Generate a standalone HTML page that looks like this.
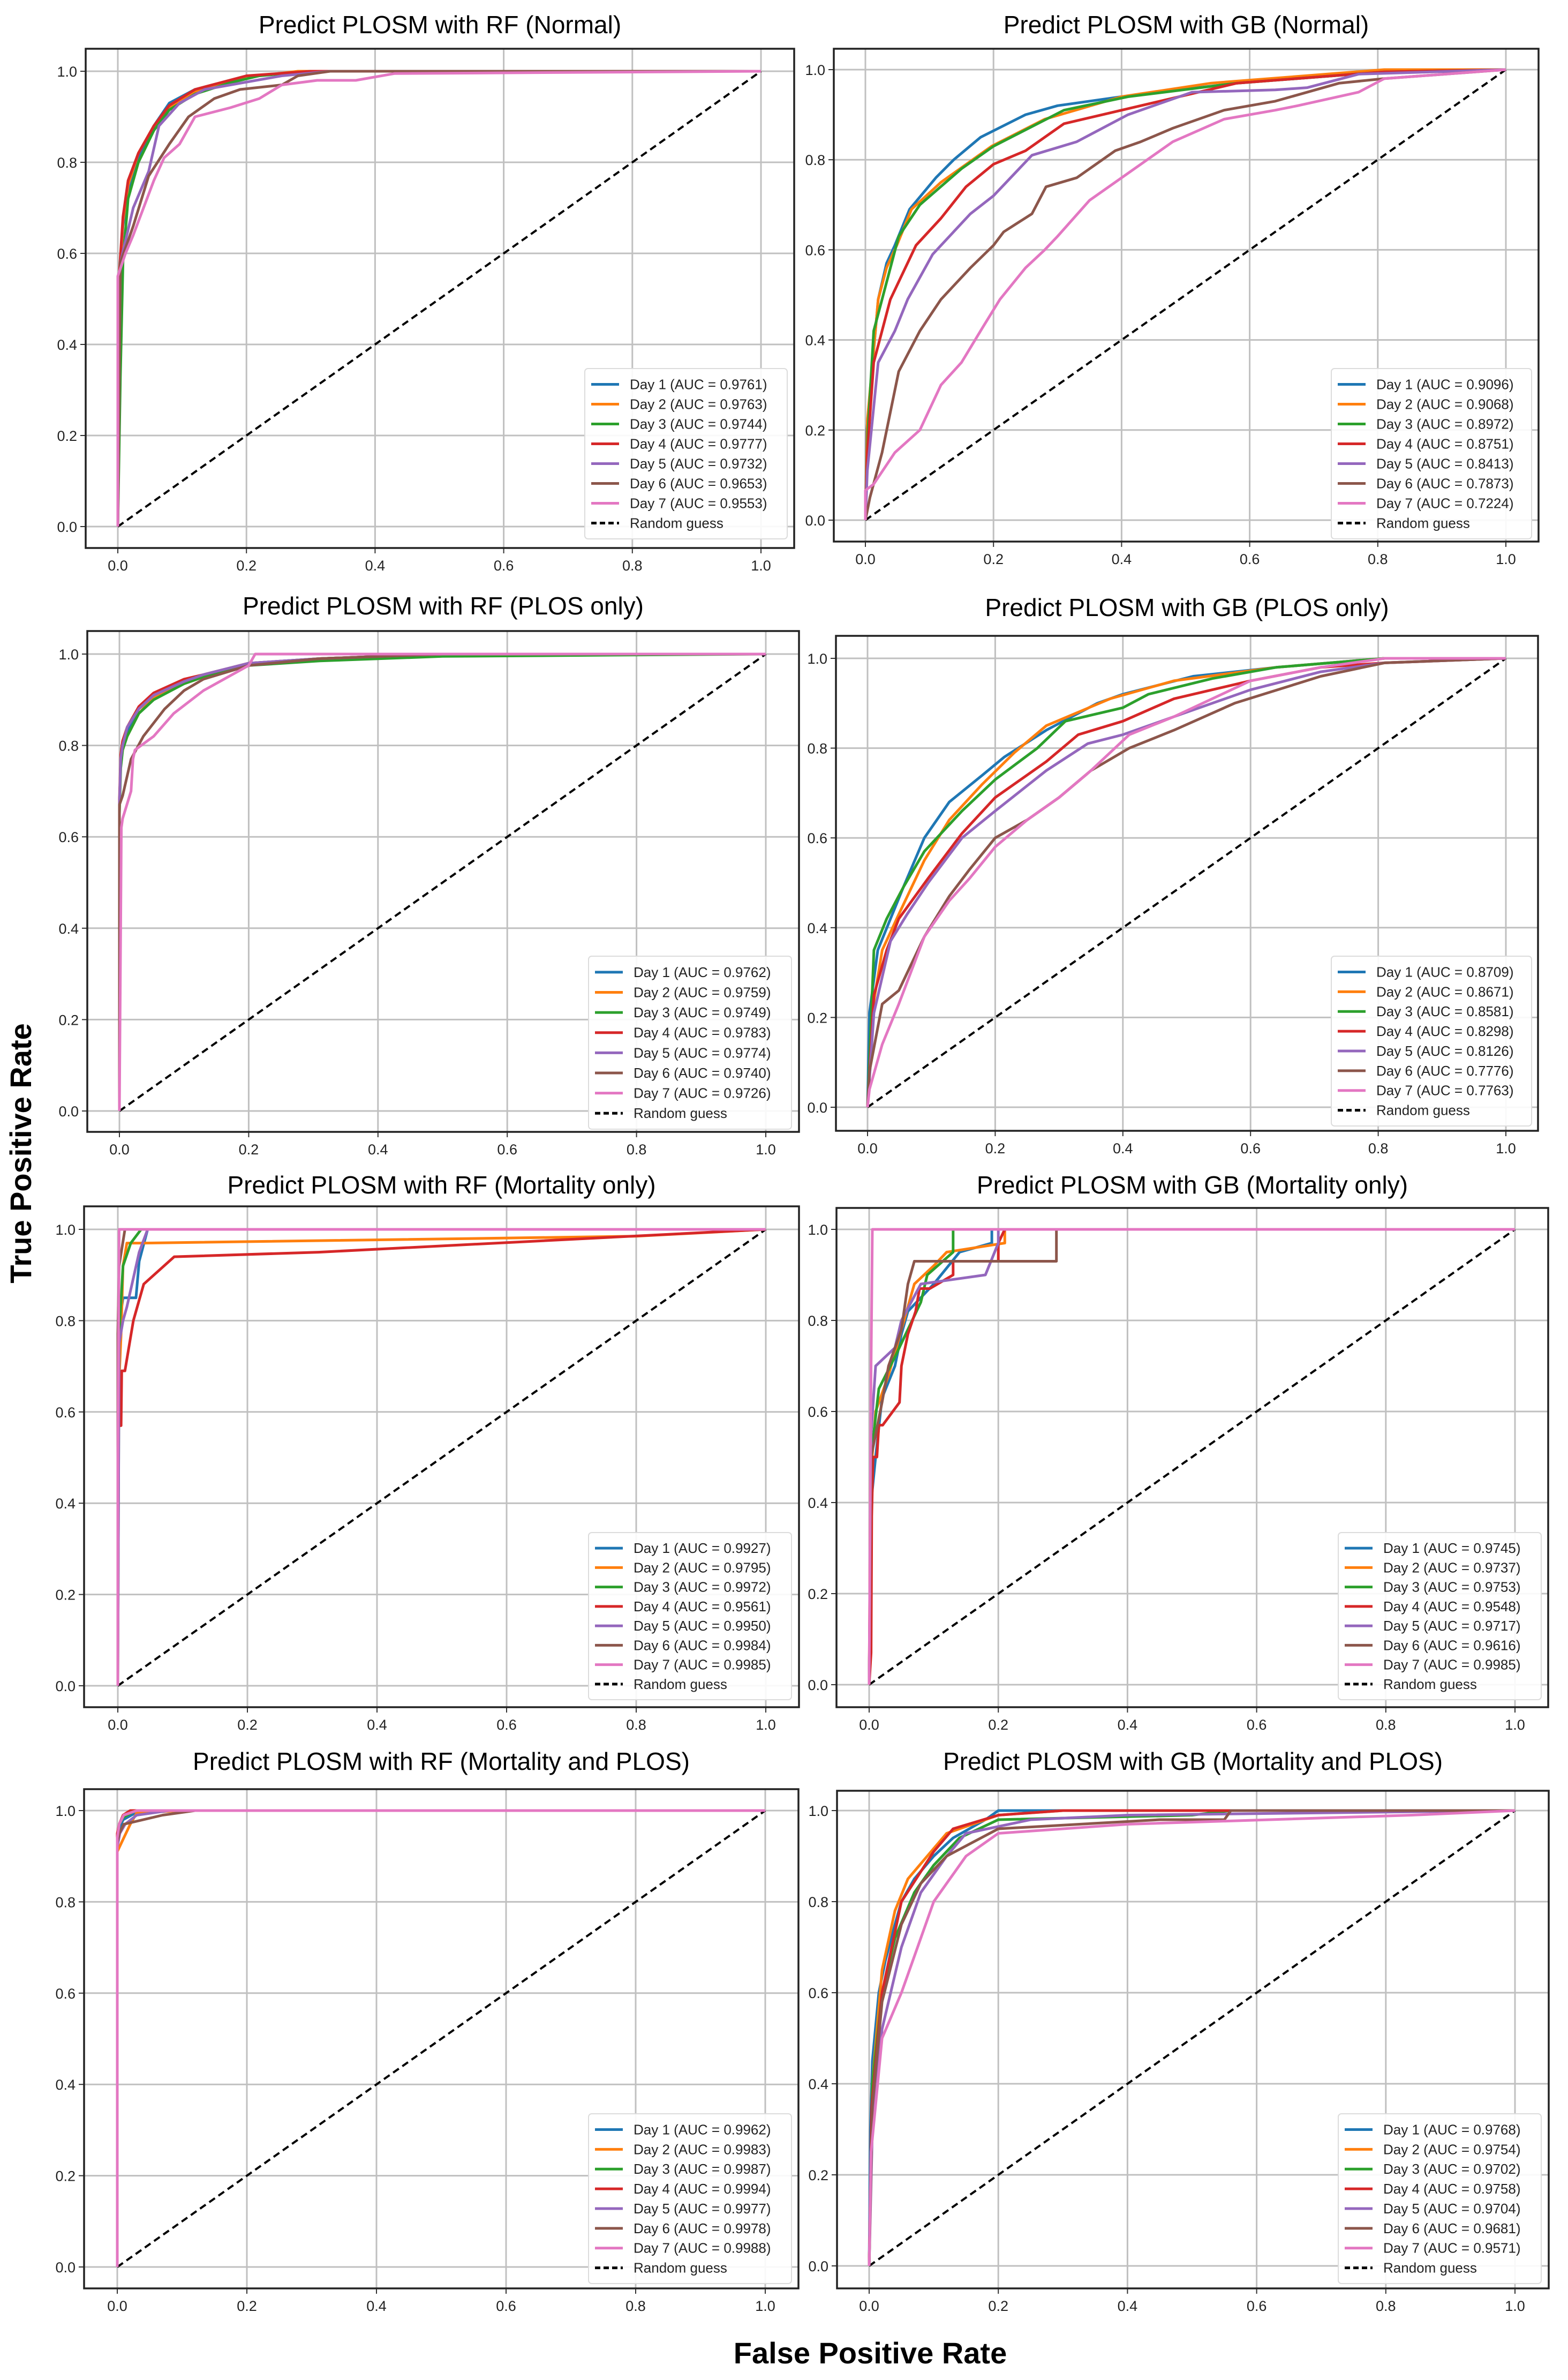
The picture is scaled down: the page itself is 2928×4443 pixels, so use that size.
<!DOCTYPE html>
<html><head><meta charset="utf-8">
<style>
html,body{margin:0;padding:0;background:#fff;}
svg{display:block;}
text{font-family:"Liberation Sans",sans-serif;}
</style></head>
<body>
<svg id="fig" width="2928" height="4443" viewBox="0 0 2928 4443" xmlns="http://www.w3.org/2000/svg">
<rect x="0" y="0" width="2928" height="4443" fill="#fff"/>
<text x="0" y="0" transform="translate(58,2153) rotate(-90)" text-anchor="middle" font-size="56" font-weight="bold" fill="#000">True Positive Rate</text>
<text x="1625" y="4412" text-anchor="middle" font-size="56" font-weight="bold" fill="#000">False Positive Rate</text>
</svg>
<script>
const colors = ["#1f77b4","#ff7f0e","#2ca02c","#d62728","#9467bd","#8c564b","#e377c2"];
const ticks = [0,0.2,0.4,0.6,0.8,1.0];
const tickLabels = ["0.0","0.2","0.4","0.6","0.8","1.0"];

const titles = ["Predict PLOSM with RF (Normal)","Predict PLOSM with GB (Normal)","Predict PLOSM with RF (PLOS only)","Predict PLOSM with GB (PLOS only)","Predict PLOSM with RF (Mortality only)","Predict PLOSM with GB (Mortality only)","Predict PLOSM with RF (Mortality and PLOS)","Predict PLOSM with GB (Mortality and PLOS)"];

const aucRfNormal = ["0.9761","0.9763","0.9744","0.9777","0.9732","0.9653","0.9553"];
const aucGbNormal = ["0.9096","0.9068","0.8972","0.8751","0.8413","0.7873","0.7224"];
const aucRfPlos = ["0.9762","0.9759","0.9749","0.9783","0.9774","0.9740","0.9726"];
const aucGbPlos = ["0.8709","0.8671","0.8581","0.8298","0.8126","0.7776","0.7763"];
const aucRfMort = ["0.9927","0.9795","0.9972","0.9561","0.9950","0.9984","0.9985"];
const aucGbMort = ["0.9745","0.9737","0.9753","0.9548","0.9717","0.9616","0.9985"];
const aucRfBoth = ["0.9962","0.9983","0.9987","0.9994","0.9977","0.9978","0.9988"];
const aucGbBoth = ["0.9768","0.9754","0.9702","0.9758","0.9704","0.9681","0.9571"];

const rfNormal = [
 [0,0,0.002,0.5,0.008,0.66,0.016,0.74,0.032,0.81,0.056,0.88,0.08,0.93,0.12,0.96,0.175,0.98,0.215,0.99,0.3,1,1,1],
 [0,0,0.002,0.52,0.008,0.67,0.016,0.75,0.032,0.82,0.056,0.88,0.08,0.92,0.12,0.955,0.175,0.98,0.22,0.99,0.28,1,1,1],
 [0,0,0.004,0.33,0.008,0.58,0.016,0.72,0.032,0.8,0.056,0.87,0.08,0.915,0.12,0.95,0.175,0.975,0.22,0.99,0.3,1,1,1],
 [0,0,0.002,0.55,0.008,0.68,0.016,0.76,0.032,0.82,0.056,0.88,0.08,0.925,0.12,0.96,0.2,0.99,0.3,1,1,1],
 [0,0,0.004,0.58,0.024,0.7,0.048,0.78,0.064,0.88,0.096,0.93,0.135,0.96,0.255,0.99,0.33,1,1,1],
 [0,0,0.004,0.58,0.024,0.66,0.048,0.77,0.08,0.84,0.11,0.9,0.15,0.94,0.19,0.96,0.255,0.97,0.28,0.99,0.33,1,1,1],
 [0,0,0,0.55,0.012,0.6,0.024,0.64,0.056,0.76,0.072,0.81,0.096,0.84,0.12,0.9,0.175,0.92,0.22,0.94,0.255,0.97,0.31,0.98,0.37,0.98,0.43,0.995,1,1]
];
const gbNormal = [
 [0,0,0.002,0.2,0.007,0.28,0.02,0.49,0.033,0.57,0.046,0.61,0.069,0.69,0.11,0.76,0.138,0.8,0.18,0.85,0.25,0.9,0.3,0.92,0.4,0.94,0.58,0.97,0.81,0.995,1,1],
 [0,0,0.003,0.22,0.02,0.49,0.033,0.56,0.049,0.61,0.072,0.69,0.118,0.75,0.197,0.83,0.28,0.89,0.4,0.94,0.54,0.97,0.81,1,1,1],
 [0,0,0.004,0.2,0.013,0.42,0.026,0.49,0.052,0.63,0.085,0.7,0.15,0.78,0.2,0.83,0.31,0.91,0.41,0.94,0.58,0.97,0.81,0.995,1,1],
 [0,0,0.003,0.15,0.013,0.35,0.039,0.49,0.079,0.61,0.118,0.67,0.157,0.74,0.2,0.79,0.25,0.82,0.31,0.88,0.4,0.91,0.58,0.97,0.81,0.995,1,1],
 [0,0,0.003,0.11,0.02,0.35,0.046,0.42,0.066,0.49,0.105,0.59,0.164,0.68,0.2,0.72,0.26,0.81,0.33,0.84,0.41,0.9,0.51,0.95,0.64,0.955,0.69,0.96,0.77,0.99,1,1],
 [0,0,0.007,0.05,0.026,0.15,0.052,0.33,0.085,0.42,0.118,0.49,0.164,0.56,0.2,0.61,0.216,0.64,0.26,0.68,0.282,0.74,0.33,0.76,0.39,0.82,0.43,0.84,0.48,0.87,0.56,0.91,0.64,0.93,0.74,0.97,0.81,0.98,1,1],
 [0,0,0,0.066,0.013,0.08,0.046,0.15,0.085,0.2,0.118,0.3,0.15,0.35,0.184,0.43,0.21,0.49,0.25,0.56,0.28,0.6,0.3,0.63,0.35,0.71,0.39,0.75,0.45,0.81,0.48,0.84,0.56,0.89,0.64,0.91,0.675,0.92,0.77,0.95,0.81,0.98,1,1]
];
const rfPlos = [
 [0,0,0,0.67,0.002,0.77,0.005,0.8,0.012,0.83,0.03,0.88,0.053,0.91,0.1,0.94,0.13,0.95,0.2,0.98,0.31,0.99,0.5,1,1,1],
 [0,0,0,0.66,0.002,0.76,0.005,0.79,0.012,0.82,0.03,0.87,0.053,0.905,0.1,0.935,0.13,0.95,0.2,0.975,0.31,0.99,0.5,1,1,1],
 [0,0,0,0.65,0.002,0.75,0.005,0.79,0.012,0.82,0.03,0.87,0.053,0.9,0.1,0.935,0.13,0.95,0.2,0.975,0.31,0.985,0.5,0.995,1,1],
 [0,0,0,0.68,0.002,0.78,0.005,0.81,0.012,0.84,0.03,0.885,0.053,0.915,0.1,0.945,0.13,0.955,0.2,0.98,0.31,0.99,0.5,1,1,1],
 [0,0,0,0.67,0.002,0.77,0.005,0.8,0.012,0.84,0.03,0.88,0.053,0.91,0.1,0.94,0.13,0.955,0.2,0.98,0.31,0.99,0.5,1,1,1],
 [0,0,0,0.3,0,0.67,0.005,0.69,0.018,0.77,0.037,0.82,0.07,0.88,0.1,0.92,0.13,0.945,0.2,0.975,0.31,0.99,0.5,1,1,1],
 [0,0,0.003,0.62,0.005,0.64,0.018,0.7,0.021,0.77,0.024,0.79,0.053,0.82,0.084,0.87,0.13,0.92,0.2,0.975,0.21,1,1,1]
];
const gbPlos = [
 [0,0,0.003,0.21,0.016,0.35,0.036,0.42,0.056,0.49,0.089,0.6,0.128,0.68,0.18,0.74,0.214,0.78,0.28,0.84,0.36,0.9,0.4,0.92,0.51,0.96,0.64,0.98,0.81,1,1,1],
 [0,0,0.007,0.21,0.023,0.35,0.049,0.43,0.089,0.55,0.128,0.64,0.18,0.72,0.23,0.79,0.28,0.85,0.38,0.91,0.48,0.95,0.64,0.98,0.81,1,1,1],
 [0,0,0.01,0.35,0.03,0.42,0.056,0.49,0.089,0.57,0.148,0.66,0.2,0.73,0.266,0.8,0.31,0.86,0.4,0.89,0.44,0.92,0.54,0.955,0.64,0.98,0.81,1,1,1],
 [0,0,0.01,0.25,0.03,0.35,0.049,0.42,0.095,0.51,0.148,0.61,0.2,0.69,0.28,0.77,0.33,0.83,0.4,0.86,0.48,0.91,0.6,0.95,0.71,0.98,0.81,0.99,1,1],
 [0,0,0.01,0.21,0.036,0.37,0.062,0.43,0.095,0.5,0.148,0.6,0.2,0.66,0.28,0.75,0.345,0.81,0.4,0.83,0.48,0.87,0.6,0.93,0.71,0.97,0.81,0.99,1,1],
 [0,0,0.003,0.08,0.023,0.23,0.049,0.26,0.089,0.38,0.128,0.47,0.16,0.53,0.2,0.6,0.25,0.64,0.3,0.69,0.35,0.75,0.41,0.8,0.48,0.84,0.575,0.9,0.71,0.96,0.81,0.99,1,1],
 [0,0,0.003,0.04,0.023,0.14,0.049,0.23,0.089,0.38,0.128,0.46,0.16,0.51,0.2,0.58,0.25,0.64,0.3,0.69,0.35,0.75,0.41,0.83,0.48,0.87,0.6,0.95,0.71,0.98,0.81,1,1,1]
];
const rfMort = [
 [0,0,0,0.77,0.008,0.85,0.028,0.85,0.033,0.93,0.046,1,1,1],
 [0,0,0,0.5,0.002,0.67,0.005,0.77,0.008,0.92,0.014,0.97,0.04,0.97,0.8,0.985,1,1],
 [0,0,0.002,0.77,0.008,0.92,0.02,0.97,0.036,1,1,1],
 [0,0,0,0.57,0.005,0.57,0.006,0.69,0.011,0.69,0.024,0.8,0.04,0.88,0.087,0.94,0.31,0.95,1,1],
 [0,0,0.002,0.75,0.008,0.8,0.014,0.83,0.033,0.95,0.046,1,1,1],
 [0,0,0,0.77,0.002,0.92,0.011,1,1,1],
 [0,0,0,0.5,0.002,1,1,1]
];
const gbMort = [
 [0,0,0.003,0.4,0.01,0.5,0.02,0.63,0.04,0.7,0.05,0.77,0.06,0.82,0.1,0.88,0.14,0.95,0.19,0.97,0.19,1,1,1],
 [0,0,0.002,0.45,0.01,0.6,0.03,0.68,0.05,0.78,0.07,0.88,0.1,0.92,0.12,0.95,0.21,0.97,0.21,1,1,1],
 [0,0,0.003,0.5,0.015,0.65,0.04,0.72,0.08,0.84,0.09,0.9,0.13,0.95,0.13,1,1,1],
 [0,0,0.003,0.07,0.004,0.37,0.006,0.5,0.012,0.5,0.015,0.57,0.021,0.57,0.047,0.62,0.05,0.7,0.06,0.77,0.072,0.82,0.078,0.87,0.094,0.87,0.13,0.9,0.13,0.93,0.2,0.93,0.2,0.97,0.21,1,1,1],
 [0,0,0.003,0.55,0.01,0.7,0.04,0.74,0.05,0.8,0.08,0.88,0.18,0.9,0.2,0.97,0.2,1,1,1],
 [0,0,0.003,0.5,0.02,0.62,0.03,0.7,0.05,0.78,0.06,0.88,0.07,0.93,0.29,0.93,0.29,1,1,1],
 [0,0,0.003,0.7,0.005,1,1,1]
];
const rfBoth = [
 [0,0,0,0.93,0.003,0.96,0.009,0.98,0.028,0.995,0.1,1,1,1],
 [0,0,0,0.91,0.01,0.94,0.02,0.97,0.03,0.995,0.1,1,1,1],
 [0,0,0,0.94,0.003,0.97,0.009,0.985,0.028,1,1,1],
 [0,0,0,0.95,0.003,0.97,0.009,0.99,0.02,1,1,1],
 [0,0,0,0.92,0.004,0.95,0.012,0.97,0.03,0.99,0.08,1,1,1],
 [0,0,0,0.93,0.003,0.95,0.01,0.97,0.07,0.99,0.12,1,1,1],
 [0,0,0,0.94,0.003,0.97,0.01,0.99,0.03,1,1,1]
];
const gbBoth = [
 [0,0,0.002,0.3,0.005,0.45,0.015,0.6,0.025,0.67,0.04,0.75,0.05,0.8,0.07,0.85,0.1,0.9,0.13,0.94,0.18,0.98,0.2,1,1,1],
 [0,0,0.005,0.4,0.02,0.65,0.04,0.78,0.06,0.85,0.09,0.9,0.12,0.95,0.2,0.99,0.3,1,1,1],
 [0,0,0.005,0.4,0.02,0.6,0.04,0.72,0.07,0.82,0.1,0.88,0.14,0.94,0.2,0.98,0.5,0.99,0.56,1,1,1],
 [0,0,0.004,0.35,0.02,0.6,0.05,0.8,0.1,0.91,0.13,0.96,0.2,0.99,0.3,1,1,1],
 [0,0,0.005,0.3,0.02,0.52,0.05,0.7,0.08,0.82,0.12,0.9,0.15,0.95,0.25,0.98,0.4,0.99,1,1],
 [0,0,0.005,0.35,0.02,0.58,0.05,0.75,0.08,0.84,0.12,0.9,0.2,0.96,0.45,0.98,0.55,0.98,0.56,1,1,1],
 [0,0,0.003,0.25,0.02,0.5,0.05,0.6,0.08,0.72,0.1,0.8,0.15,0.9,0.2,0.95,0.4,0.97,0.84,0.99,1,1]
];

const panelData = [rfNormal,gbNormal,rfPlos,gbPlos,rfMort,gbMort,rfBoth,gbBoth];
const panelAuc = [aucRfNormal,aucGbNormal,aucRfPlos,aucGbPlos,aucRfMort,aucGbMort,aucRfBoth,aucGbBoth];
const panelKeys = ["rf-normal","gb-normal","rf-plos-only","gb-plos-only","rf-mortality-only","gb-mortality-only","rf-mortality-and-plos","gb-mortality-and-plos"];

const geom = [
 {x0:220,x1:1421,y1:133,y0:983,f:[160,91,1483,1023],lg:[1092,688,1470,1006],ty:62},
 {x0:1616,x1:2812,y1:130,y0:971,f:[1557,91,2873,1011],lg:[2486,688,2860,1006],ty:62},
 {x0:223,x1:1430,y1:1221,y0:2074,f:[163,1178,1492,2113],lg:[1099,1785,1478,2108],ty:1147},
 {x0:1620,x1:2812,y1:1229,y0:2067,f:[1561,1187,2872,2111],lg:[2486,1785,2860,2102],ty:1150},
 {x0:220,x1:1430,y1:2295,y0:3147,f:[157,2252,1492,3187],lg:[1099,2861,1478,3173],ty:2228},
 {x0:1623,x1:2829,y1:2295,y0:3145,f:[1562,2255,2891,3187],lg:[2499,2861,2878,3173],ty:2228},
 {x0:219,x1:1429,y1:3380,y0:4232,f:[157,3340,1491,4272],lg:[1099,3946,1478,4263],ty:3304},
 {x0:1623,x1:2829,y1:3380,y0:4230,f:[1563,3343,2892,4272],lg:[2499,3946,2878,4263],ty:3304}
];

const NS = "http://www.w3.org/2000/svg";
const svg = document.getElementById("fig");
function mk(tag, attrs, parent){
  const e = document.createElementNS(NS, tag);
  for (const k in attrs) e.setAttribute(k, attrs[k]);
  (parent||svg).appendChild(e);
  return e;
}

geom.forEach((g, p) => {
  const sx = v => g.x0 + v*(g.x1-g.x0);
  const sy = v => g.y0 - v*(g.y0-g.y1);
  const grp = mk("g", {});
  
  
  const [fl,ft,fr,fb] = g.f;
  ticks.forEach((t, i) => {
    const gx = mk("line", {x1:sx(t),x2:sx(t),y1:ft,y2:fb,stroke:"#c0c0c0","stroke-width":3}, grp);
    
    
    const gy = mk("line", {x1:fl,x2:fr,y1:sy(t),y2:sy(t),stroke:"#c0c0c0","stroke-width":3}, grp);
    
    
    mk("line", {x1:sx(t),x2:sx(t),y1:fb,y2:fb+10,stroke:"#333","stroke-width":2}, grp);
    mk("line", {x1:fl-10,x2:fl,y1:sy(t),y2:sy(t),stroke:"#333","stroke-width":2}, grp);
    const xl = mk("text", {x:sx(t),y:fb+42,"text-anchor":"middle","font-size":27,fill:"#222"}, grp);
    xl.textContent = tickLabels[i];
    
    
    const yl = mk("text", {x:fl-16,y:sy(t)+10,"text-anchor":"end","font-size":27,fill:"#222"}, grp);
    yl.textContent = tickLabels[i];
    
    
  });
  const diag = mk("line", {x1:sx(0),y1:sy(0),x2:sx(1),y2:sy(1),stroke:"#000","stroke-width":4,"stroke-dasharray":"13 8"}, grp);
  
  
  panelData[p].forEach((pts, d) => {
    let dstr = "";
    for (let i = 0; i < pts.length; i += 2) dstr += (i ? "L" : "M") + sx(pts[i]).toFixed(1) + " " + sy(pts[i+1]).toFixed(1);
    const c = mk("path", {d:dstr,fill:"none",stroke:colors[d],"stroke-width":5,"stroke-linejoin":"round"}, grp);
    
    
  });
  const fr_ = mk("rect", {x:fl,y:ft,width:fr-fl,height:fb-ft,fill:"none",stroke:"#222","stroke-width":3.5}, grp);
  
  
  const tt = mk("text", {x:(fl+fr)/2,y:g.ty,"text-anchor":"middle","font-size":46,fill:"#000"}, grp);
  tt.textContent = titles[p];
  
  
  const [ll,lt,lr,lb] = g.lg;
  const lgG = mk("g", {}, grp);
  
  
  mk("rect", {x:ll,y:lt,width:lr-ll,height:lb-lt,rx:6,fill:"#fff","fill-opacity":0.9,stroke:"#dcdcdc","stroke-width":2}, lgG);
  const step = (lb-lt-22)/8;
  for (let i = 0; i < 8; i++) {
    const cy = lt + 11 + step*(i+0.5);
    const ln = mk("line", {x1:ll+12,x2:ll+64,y1:cy,y2:cy,stroke:i<7?colors[i]:"#000","stroke-width":5,"stroke-dasharray":i<7?"none":"10 6"}, lgG);
    
    
    const tx = mk("text", {x:ll+84,y:cy+9,"font-size":26,fill:"#222"}, lgG);
    tx.textContent = i < 7 ? ("Day " + (i+1) + " (AUC = " + panelAuc[p][i] + ")") : "Random guess";
    
    
  }
});
</script>
</body></html>
